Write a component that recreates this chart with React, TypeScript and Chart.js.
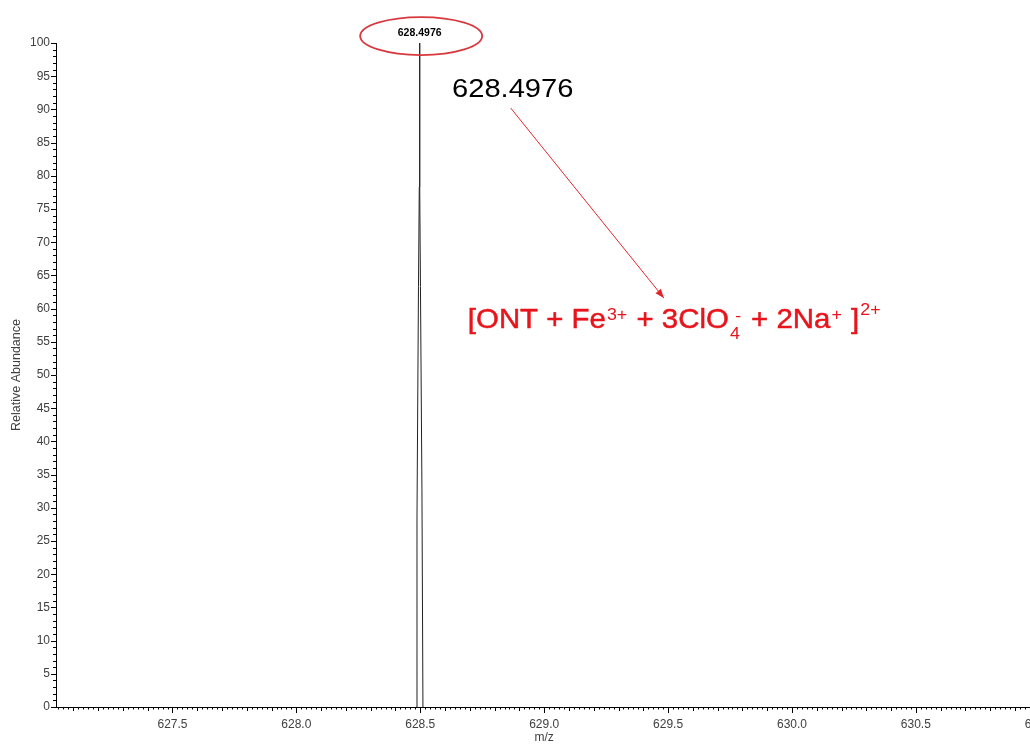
import React, { useEffect, useRef } from "react";
import { Chart, registerables } from "chart.js";

Chart.register(...registerables);

// ---- data ----
const mzValues = [628.4848, 628.4868, 628.4928, 628.496, 628.4968, 628.4976, 628.498, 628.4988, 628.5008, 628.5068, 628.5108];
const abundance = [0, 28.6, 63.3, 78.3, 92.9, 100, 92.9, 78.3, 63.3, 32.7, 0];
const xTickLabels = [627.5, 628.0, 628.5, 629.0, 629.5, 630.0, 630.5, 631.0];
const yTickLabels = [0, 5, 10, 15, 20, 25, 30, 35, 40, 45, 50, 55, 60, 65, 70, 75, 80, 85, 90, 95, 100];
const peakLabel = "628.4976";
const peakMz = 628.4976;
const xTitle = "m/z";
const yTitle = "Relative Abundance";
const formulaParts = [
  { t: "[ONT + Fe", k: "n" },
  { t: "3+", k: "sup" },
  { t: " + 3ClO", k: "n" },
  { t: "4", k: "sub", over: "-" },
  { t: " + 2Na", k: "n" },
  { t: "+", k: "sup" },
  { t: " ]", k: "n" },
  { t: "2+", k: "sup2" },
];

const X_MIN = 627.03;
const X_MAX = 631.122;
const FONT = "'Liberation Sans', Arial, sans-serif";

const annotationPlugin = {
  id: "specAnnotations",
  afterDraw(chart: any) {
    const { ctx, chartArea } = chart;
    const xs = chart.scales.x;
    const ys = chart.scales.y;
    ctx.save();
    // minor ticks
    ctx.strokeStyle = "#000";
    ctx.lineWidth = 1;
    ctx.beginPath();
    for (let i = Math.ceil(xs.min / 0.02); i * 0.02 <= xs.max; i++) {
      const v = i * 0.02;
      const px = Math.round(xs.getPixelForValue(v)) + 0.5;
      const len = i % 25 === 0 ? 6 : i % 5 === 0 ? 4 : 2.5;
      ctx.moveTo(px, chartArea.bottom);
      ctx.lineTo(px, chartArea.bottom + len);
    }
    for (let v = 0; v <= 100; v++) {
      const py = Math.round(ys.getPixelForValue(v)) + 0.5;
      const len = v % 5 === 0 ? 5 : 3;
      ctx.moveTo(chartArea.left - len, py);
      ctx.lineTo(chartArea.left, py);
    }
    ctx.stroke();

    // axis titles
    ctx.fillStyle = "#404040";
    ctx.font = `12px ${FONT}`;
    ctx.textAlign = "center";
    ctx.textBaseline = "middle";
    ctx.fillText(xTitle, xs.getPixelForValue(629.0), 738);
    ctx.save();
    ctx.translate(17, (chartArea.top + chartArea.bottom) / 2);
    ctx.rotate(-Math.PI / 2);
    ctx.font = `12.5px ${FONT}`;
    ctx.fillText(yTitle, 0, 0);
    ctx.restore();

    // peak label + ellipse
    const pxPeak = xs.getPixelForValue(peakMz);
    ctx.fillStyle = "#000";
    ctx.font = `bold 10.5px ${FONT}`;
    ctx.fillText(peakLabel, pxPeak, ys.getPixelForValue(101.5));
    ctx.strokeStyle = "#d8393f";
    ctx.lineWidth = 1.8;
    ctx.beginPath();
    ctx.ellipse(pxPeak + 1.5, ys.getPixelForValue(101.05), 61, 19, 0, 0, Math.PI * 2);
    ctx.stroke();

    // big label
    ctx.save();
    ctx.translate(xs.getPixelForValue(628.628), ys.getPixelForValue(91.9));
    ctx.scale(1.12, 1);
    ctx.font = `26px ${FONT}`;
    ctx.textAlign = "left";
    ctx.textBaseline = "alphabetic";
    ctx.fillStyle = "#000";
    ctx.fillText(peakLabel, 0, 0);
    ctx.restore();

    // arrow
    const ax1 = xs.getPixelForValue(628.865), ay1 = ys.getPixelForValue(90.2);
    const ax2 = xs.getPixelForValue(629.483), ay2 = ys.getPixelForValue(61.6);
    ctx.strokeStyle = "#e0262b";
    ctx.fillStyle = "#e0262b";
    ctx.lineWidth = 1;
    ctx.beginPath();
    ctx.moveTo(ax1, ay1);
    ctx.lineTo(ax2, ay2);
    ctx.stroke();
    const ang = Math.atan2(ay2 - ay1, ax2 - ax1);
    const hl = 9, hw = 3.5;
    ctx.beginPath();
    ctx.moveTo(ax2, ay2);
    ctx.lineTo(ax2 - hl * Math.cos(ang) + hw * Math.sin(ang), ay2 - hl * Math.sin(ang) - hw * Math.cos(ang));
    ctx.lineTo(ax2 - hl * Math.cos(ang) - hw * Math.sin(ang), ay2 - hl * Math.sin(ang) + hw * Math.cos(ang));
    ctx.closePath();
    ctx.fill();

    // formula
    ctx.save();
    ctx.translate(xs.getPixelForValue(628.692), ys.getPixelForValue(57.1));
    ctx.scale(1.05, 1);
    ctx.fillStyle = "#e8141c";
    ctx.strokeStyle = "#e8141c";
    ctx.lineWidth = 0.5;
    ctx.textAlign = "left";
    ctx.textBaseline = "alphabetic";
    let cx = 0;
    for (const p of formulaParts) {
      if (p.k === "n") {
        ctx.font = `28px ${FONT}`;
        ctx.fillText(p.t, cx, 0);
        ctx.strokeText(p.t, cx, 0);
        cx += ctx.measureText(p.t).width;
      } else if (p.k === "sup" || p.k === "sup2") {
        ctx.font = `17px ${FONT}`;
        const dy = p.k === "sup2" ? -13 : -8;
        ctx.fillText(p.t, cx + 1, dy);
        cx += ctx.measureText(p.t).width + 2;
      } else {
        ctx.font = `17px ${FONT}`;
        ctx.fillText(p.t, cx + 1, 11);
        if ((p as any).over) ctx.fillText((p as any).over, cx + 6, -7);
        cx += ctx.measureText(p.t).width + 4;
      }
    }
    ctx.restore();

    ctx.restore();
  },
};

export default function App() {
  const ref = useRef<HTMLCanvasElement | null>(null);
  useEffect(() => {
    if (!ref.current) return;
    Chart.defaults.font.family = FONT;
    const chart = new Chart(ref.current, {
      type: "line",
      data: {
        datasets: [
          {
            data: mzValues.map((x, i) => ({ x, y: abundance[i] })),
            borderColor: "#222",
            borderWidth: 1,
            pointRadius: 0,
            tension: 0,
            fill: false,
          },
        ],
      },
      options: {
        animation: false,
        responsive: false,
        devicePixelRatio: 1,
        layout: { padding: { top: 43, right: 5, left: 0, bottom: 0 } },
        plugins: { legend: { display: false }, tooltip: { enabled: false } },
        scales: {
          x: {
            type: "linear",
            min: X_MIN,
            max: X_MAX,
            grid: { display: false, drawTicks: false },
            border: { display: true, color: "#000", width: 1 },
            afterBuildTicks: (s: any) => {
              s.ticks = xTickLabels.map((v) => ({ value: v }));
            },
            afterFit: (s: any) => {
              s.height = 42;
            },
            ticks: {
              autoSkip: false,
              maxRotation: 0,
              padding: 10,
              color: "#404040",
              font: { size: 12 },
              callback: (v: any) => Number(v).toFixed(1),
            },
          },
          y: {
            type: "linear",
            min: 0,
            max: 100,
            grid: { display: false, drawTicks: false },
            border: { display: true, color: "#000", width: 1 },
            afterBuildTicks: (s: any) => {
              s.ticks = yTickLabels.map((v) => ({ value: v }));
            },
            afterFit: (s: any) => {
              s.width = 56;
            },
            ticks: {
              padding: 6,
              color: "#404040",
              font: { size: 12 },
              callback: (v: any) => String(v),
            },
          },
        },
      },
      plugins: [annotationPlugin],
    });
    return () => chart.destroy();
  }, []);
  return (
    <div style={{ position: "fixed", left: 0, top: 0, width: 1075, height: 749, background: "#fff" }}>
      <canvas ref={ref} width={1075} height={749} style={{ display: "block" }} />
    </div>
  );
}
